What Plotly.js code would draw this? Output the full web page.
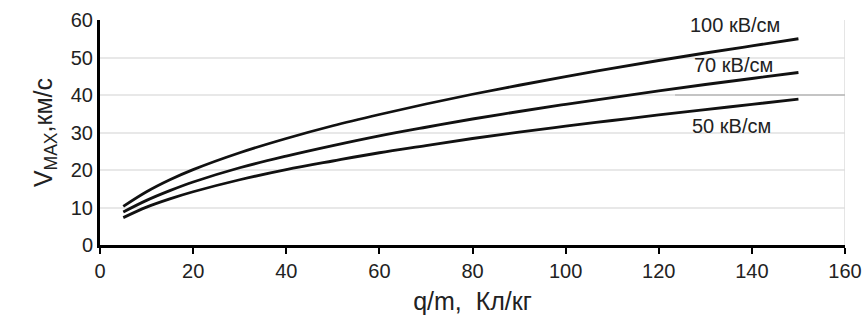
<!DOCTYPE html>
<html>
<head>
<meta charset="utf-8">
<script src="https://cdn.plot.ly/plotly-3.0.1.min.js"></script>
<style>html,body{margin:0;padding:0;background:#fff;}#chart{width:863px;height:324px;}</style>
</head>
<body>
<div id="chart"></div>
<script>
const qm = [5, 10, 15, 20, 30, 40, 50, 60, 70, 80, 90, 100, 110, 120, 130, 140, 150];
const v100 = [10.3, 14.2, 17.4, 20.1, 24.6, 28.4, 31.8, 34.8, 37.6, 40.2, 42.6, 44.9, 47.1, 49.2, 51.2, 53.1, 55.0];
const v70  = [8.8, 11.9, 14.5, 16.8, 20.6, 23.7, 26.5, 29.1, 31.4, 33.6, 35.6, 37.5, 39.3, 41.1, 42.8, 44.4, 46.0];
const v50  = [7.3, 10.1, 12.3, 14.2, 17.4, 20.1, 22.4, 24.6, 26.5, 28.4, 30.1, 31.7, 33.2, 34.7, 36.1, 37.5, 38.9];
const seriesNames = ["100 кВ/см", "70 кВ/см", "50 кВ/см"];
const xTicks = [0, 20, 40, 60, 80, 100, 120, 140, 160];
const yTicks = [0, 10, 20, 30, 40, 50, 60];

const lineStyle = {color: '#111', width: 2.8, shape: 'spline', smoothing: 1};
const traces = [v100, v70, v50].map((v, i) => ({
  x: qm, y: v, type: 'scatter', mode: 'lines', name: seriesNames[i],
  line: lineStyle, hoverinfo: 'skip'
}));

const labelPos = [[136.4, 58.6], [136.0, 48.0], [135.7, 31.7]];
const annotations = seriesNames.map((t, i) => ({
  x: labelPos[i][0], y: labelPos[i][1], xref: 'x', yref: 'y', text: t,
  showarrow: false, font: {family: 'Liberation Sans, Arial, sans-serif', size: 20, color: '#222'}
}));

const layout = {
  width: 863, height: 324,
  margin: {l: 100, r: 18, t: 20, b: 79},
  paper_bgcolor: '#fff', plot_bgcolor: '#fff',
  showlegend: false,
  font: {family: 'Liberation Sans, Arial, sans-serif', color: '#222'},
  xaxis: {
    range: [0, 160], tickvals: xTicks, ticktext: xTicks.map(String),
    showgrid: false, zeroline: false,
    showline: true, linecolor: '#000', linewidth: 3,
    ticks: 'outside', ticklen: 6, tickwidth: 2, tickcolor: '#000',
    tickfont: {size: 20, color: '#222'},
    title: {text: 'q/m,  Кл/кг', font: {size: 25, color: '#222'}, standoff: 12}
  },
  yaxis: {
    range: [0, 60], tickvals: yTicks, ticktext: yTicks.map(String),
    showgrid: true, gridcolor: '#e8e8e8', gridwidth: 2, zeroline: false,
    showline: true, linecolor: '#000', linewidth: 3,
    ticks: '', ticklen: 0,
    tickfont: {size: 20, color: '#222'},
    title: {text: 'V<sub>MAX</sub>,км/с', font: {size: 25, color: '#222'}, standoff: 12}
  },
  shapes: [
    {type: 'line', xref: 'x', yref: 'y', x0: 160, x1: 160, y0: 0, y1: 60, line: {color: '#dcdcdc', width: 1.5}},
    {type: 'line', xref: 'x', yref: 'y', x0: 123.5, x1: 160, y0: 40, y1: 40, line: {color: '#b8b8b8', width: 1.5}},
    {type: 'line', xref: 'x', yref: 'y', x0: -1.5, x1: 0, y0: 0, y1: 0, line: {color: '#000', width: 3}}
  ],
  annotations: annotations
};

Plotly.newPlot('chart', traces, layout, {staticPlot: true, displayModeBar: false});
</script>
</body>
</html>
